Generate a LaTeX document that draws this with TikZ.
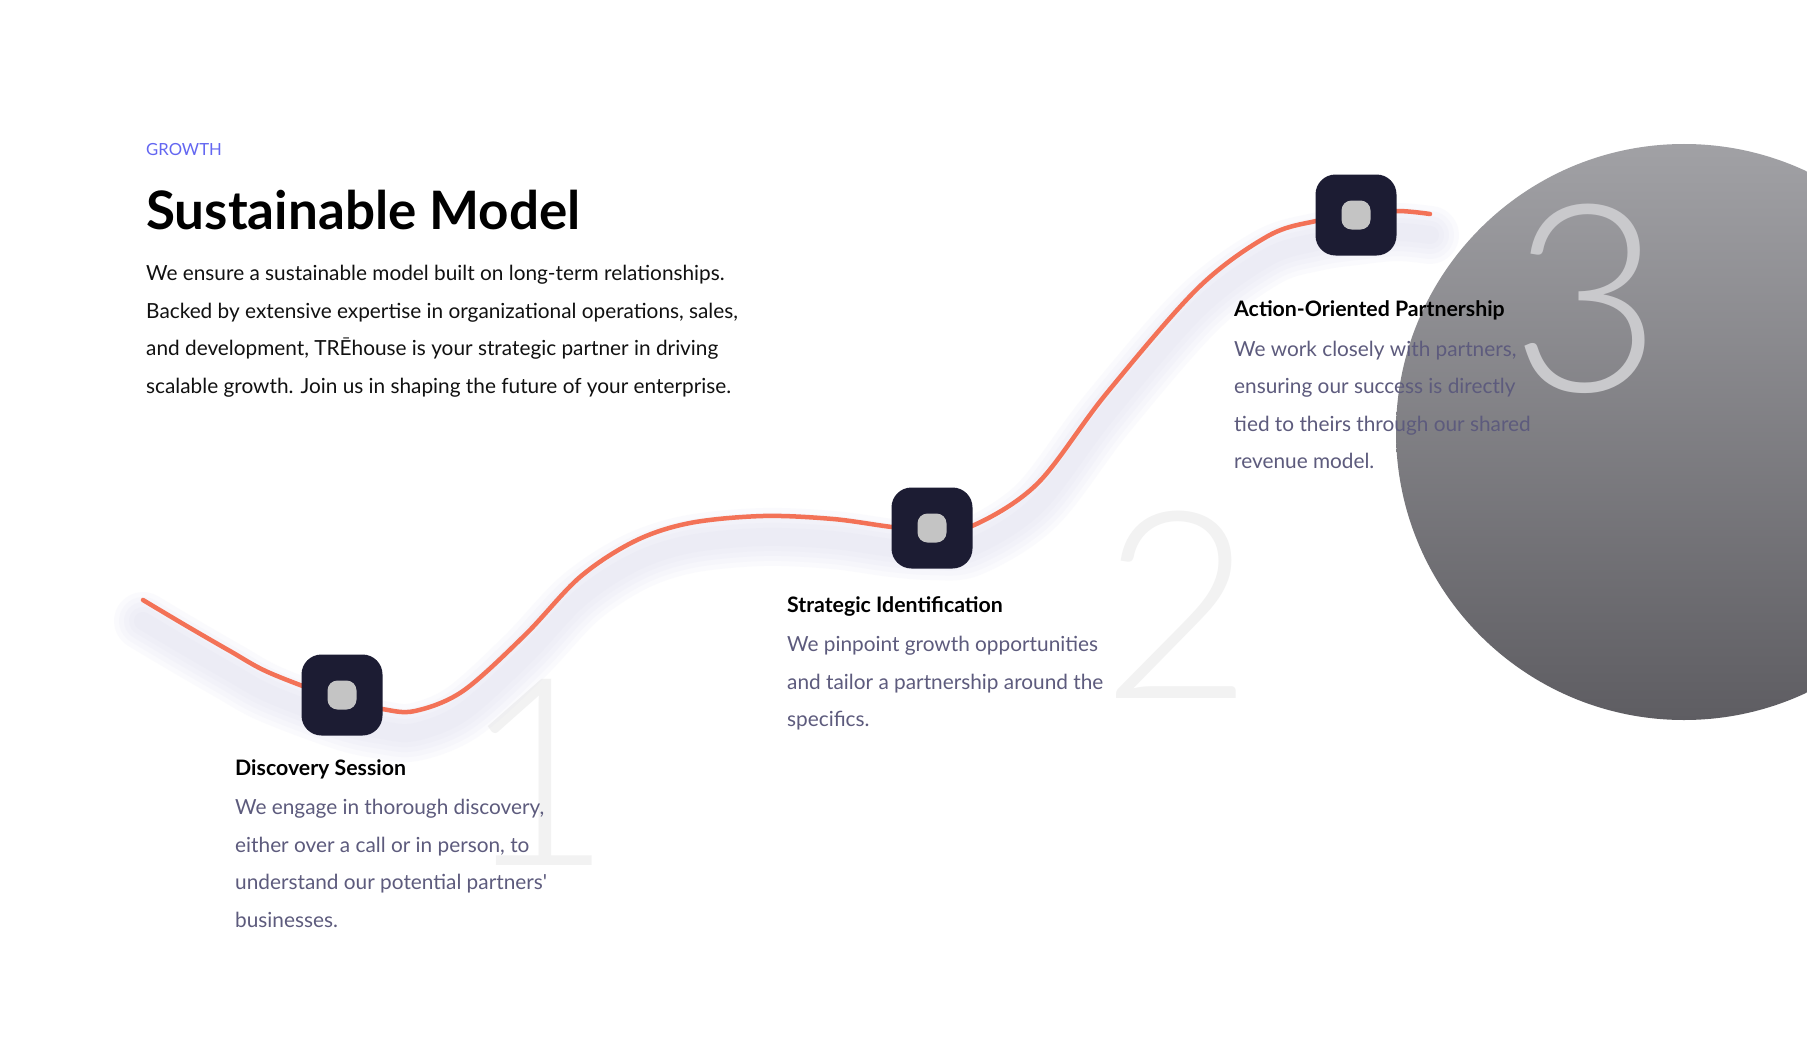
\documentclass[tikz,border=0pt]{standalone}
\usepackage{fontspec}
\setmainfont{Lato}
\newfontfamily\numfont{Lato Light}
\usetikzlibrary{calc}
\pgfdeclarelayer{back}
\pgfdeclarelayer{bg}
\pgfsetlayers{back,bg,main}
\definecolor{coral}{HTML}{F37257}
\definecolor{navy}{HTML}{1C1C33}
\definecolor{knobc}{HTML}{C4C4C4}
\definecolor{descc}{HTML}{5D5B7D}
\definecolor{indigoc}{HTML}{6366F1}
\definecolor{numlight}{HTML}{F2F2F2}
\definecolor{numcirc}{HTML}{C9C9CC}
\definecolor{shadowc}{HTML}{D2D2EA}
\definecolor{circtop}{HTML}{A1A1A5}
\definecolor{circmid}{HTML}{98989C}
\definecolor{circbot}{HTML}{5E5D62}
\definecolor{bodyc}{HTML}{111111}
\newcommand\hdfont{\fontsize{21.3}{25}\selectfont\bfseries}
\newcommand\dsfont{\fontsize{20.8}{25}\selectfont}
\newcommand\bdfont{\fontsize{20.8}{25}\selectfont}
\newcommand\ttlfont{\fontsize{53}{60}\selectfont\bfseries}
\begin{document}
\begin{tikzpicture}[x=1pt,y=-1pt,
  txt/.style={inner sep=0, anchor=base west},
  head/.style={txt, font=\hdfont, text=black},
  desc/.style={txt, font=\dsfont, text=descc},
  body/.style={txt, font=\bdfont, text=bodyc},
  knobbox/.style={rectangle, rounded corners=20pt, fill=navy, minimum size=81pt, inner sep=0},
  knobdot/.style={rectangle, rounded corners=10pt, fill=knobc, minimum size=29pt, inner sep=0},
  bignum/.style={inner sep=0, anchor=base, font=\numfont\fontsize{262}{262}\selectfont}]
\useasboundingbox (0,0) rectangle (1807,1054);

% path nodes
\coordinate (s) at (143,600);
\coordinate (e) at (1430,214);
\node[knobbox] (n1) at (342,695) {};
\node[knobdot] (d1) at (n1.center) {};
\node[knobbox] (n2) at (932,528) {};
\node[knobdot] (d2) at (n2.center) {};
\node[knobbox] (n3) at (1356,215) {};
\node[knobdot] (d3) at (n3.center) {};
\coordinate (p1) at ($(n1.center)+(0,5)$);
\coordinate (p2) at ($(n2.center)+(0,2)$);
\coordinate (p3) at (n3.center);

\def\wave{plot[smooth, tension=0.55] coordinates {(s) (185,625) (230,651) (270,673) (p1) (382,709) (415,711) (463,691) (525,635) (580,577) (635,541) (690,523) (763,516) (833,519) (892,527) (p2) (972,526) (1037,484) (1106,394) (1198,288) (1268,236) (1316,221) (p3) (1397,211) (e)}}

\begin{pgfonlayer}{back}
  \fill[white] (0,0) rectangle (1807,1054);
  \begin{scope}
    \clip (0,0) rectangle (1807,1054);
    \shade[top color=circtop, middle color=circmid, bottom color=circbot] (1684,432) circle[radius=288];
  \end{scope}
  \node[bignum, text=numlight] (big1) at (537,865) {1};
  \node[bignum, text=numlight] (big2) at (1177,698) {2};
  \node[bignum, text=numcirc] (big3) at (1586,391) {3};
\end{pgfonlayer}

\begin{pgfonlayer}{bg}
  \foreach \w in {58,48,38,28,18}
    \draw[shadowc, opacity=0.09, line width=\w pt, line cap=round, line join=round, transform canvas={yshift=-21pt}] \wave;
  \draw[coral, line width=4.5pt, line cap=round, line join=round] \wave;
\end{pgfonlayer}

% header
\node[txt, font=\fontsize{16.7}{20}\selectfont, text=indigoc] (kicker) at (146,156) {GROWTH};
\node[txt, font=\ttlfont, text=black] (title) at (146,229) {Sustainable Model};
\node[body] (b1) at (146,280.5) {We ensure a sustainable model built on long-term relationships.};
\node[body] (b2) at (146,318) {Backed by extensive expertise in organizational operations, sales,};
\node[body] (b3) at (146,355.5) {and development, TRĒhouse is your strategic partner in driving};
\node[body] (b4) at (146,393) {scalable growth. Join us in shaping the future of your enterprise.};

% step 1
\node[head] (h1) at (235,775) {Discovery Session};
\node[desc] (t1a) at (235,814.5) {We engage in thorough discovery,};
\node[desc] (t1b) at (235,852) {either over a call or in person, to};
\node[desc] (t1c) at (235,889.5) {understand our potential partners\textquotesingle};
\node[desc] (t1d) at (235,927) {businesses.};

% step 2
\node[head] (h2) at (787,612) {Strategic Identification};
\node[desc] (t2a) at (787,651.5) {We pinpoint growth opportunities};
\node[desc] (t2b) at (787,689) {and tailor a partnership around the};
\node[desc] (t2c) at (787,726.5) {specifics.};

% step 3
\node[head] (h3) at (1234,316.5) {Action-Oriented Partnership};
\node[desc] (t3a) at (1234,356) {We work closely with partners,};
\node[desc] (t3b) at (1234,393.5) {ensuring our success is directly};
\node[desc] (t3c) at (1234,431) {tied to theirs through our shared};
\node[desc] (t3d) at (1234,468.5) {revenue model.};
\end{tikzpicture}
\end{document}
